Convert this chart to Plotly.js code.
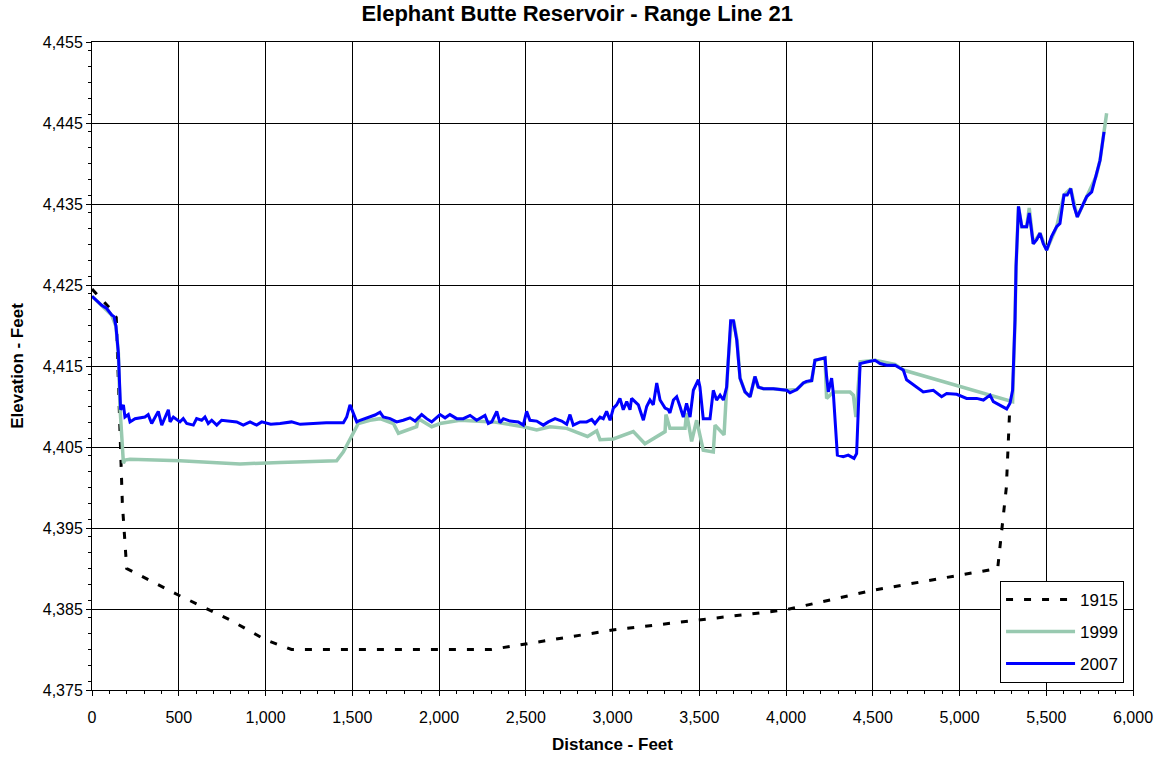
<!DOCTYPE html>
<html>
<head>
<meta charset="utf-8">
<script src="https://cdn.plot.ly/plotly-3.0.1.min.js"></script>
<style>html,body{margin:0;padding:0;background:#fff;}#chart{width:1166px;height:761px;}</style>
</head>
<body>
<div id="chart"></div>
<script>
// 1915 survey
const dist1915 = [0, 100, 140, 160, 175, 200, 500, 800, 1000, 1150, 2300, 3000, 4000, 4500, 5000, 5220, 5270, 5290];
const elev1915 = [4424.5, 4422.2, 4421, 4408, 4398, 4390, 4386.7, 4383.6, 4381.2, 4380, 4380, 4382.4, 4384.9, 4387.3, 4389.2, 4390, 4400, 4410];

// 1999 survey
const dist1999 = [0, 56, 113, 138, 152, 161, 181, 190, 219, 507, 853, 1084, 1410, 1449, 1487, 1535, 1602, 1660, 1737, 1766, 1871, 1881, 1958, 2006, 2121, 2313, 2486, 2563, 2640, 2736, 2856, 2909, 2928, 3005, 3120, 3187, 3303, 3308, 3331, 3418, 3427, 3456, 3485, 3523, 3581, 3591, 3643, 3667, 3685, 3700, 3718, 3735, 3764, 3793, 3821, 3840, 3870, 3927, 4004, 4062, 4100, 4148, 4167, 4225, 4234, 4273, 4369, 4388, 4403, 4427, 4513, 4628, 4676, 5306, 5320, 5326, 5340, 5359, 5387, 5402, 5425, 5464, 5502, 5560, 5602, 5641, 5679, 5733, 5787, 5810, 5848];
const elev1999 = [4423.6, 4422.5, 4421.3, 4419.9, 4416.6, 4410.0, 4403.0, 4403.4, 4403.5, 4403.3, 4402.9, 4403.1, 4403.3, 4404.4, 4405.9, 4407.9, 4408.3, 4408.5, 4407.9, 4406.7, 4407.5, 4408.5, 4407.5, 4407.9, 4408.3, 4408.1, 4407.5, 4407.1, 4407.5, 4407.3, 4406.3, 4407.0, 4405.9, 4406.0, 4406.9, 4405.4, 4406.9, 4409.0, 4407.3, 4407.3, 4409.2, 4405.7, 4408.3, 4404.6, 4404.4, 4407.7, 4406.5, 4415.7, 4420.4, 4420.4, 4418.2, 4413.5, 4411.8, 4411.2, 4413.7, 4412.4, 4412.2, 4412.2, 4412.0, 4412.1, 4412.9, 4413.2, 4415.7, 4416.0, 4411.0, 4411.8, 4411.8, 4411.4, 4408.7, 4415.5, 4415.7, 4415.2, 4414.5, 4410.6, 4420.7, 4427.3, 4434.7, 4432.2, 4432.2, 4434.5, 4430.1, 4431.4, 4429.3, 4432.2, 4436.1, 4436.9, 4433.4, 4435.9, 4438.4, 4440.4, 4446.2];

// 2007 survey
const dist2007 = [0, 27, 56, 85, 113, 127, 138, 152, 161, 165, 181, 190, 209, 219, 248, 305, 324, 344, 382, 402, 440, 450, 469, 507, 526, 546, 584, 603, 632, 651, 670, 690, 719, 747, 834, 872, 911, 949, 978, 1030, 1084, 1150, 1200, 1276, 1350, 1449, 1468, 1487, 1506, 1526, 1545, 1583, 1631, 1660, 1679, 1718, 1756, 1794, 1833, 1862, 1900, 1929, 1958, 2006, 2035, 2063, 2102, 2140, 2179, 2217, 2265, 2284, 2304, 2333, 2351, 2371, 2409, 2457, 2486, 2505, 2524, 2563, 2601, 2630, 2669, 2707, 2736, 2755, 2774, 2813, 2851, 2880, 2899, 2928, 2947, 2966, 2986, 3005, 3024, 3043, 3062, 3082, 3101, 3110, 3130, 3149, 3158, 3178, 3197, 3216, 3235, 3255, 3274, 3303, 3322, 3331, 3351, 3370, 3389, 3408, 3427, 3447, 3466, 3495, 3504, 3523, 3562, 3581, 3600, 3620, 3639, 3658, 3681, 3697, 3716, 3735, 3764, 3793, 3821, 3840, 3870, 3927, 4004, 4023, 4062, 4100, 4118, 4148, 4167, 4225, 4234, 4244, 4263, 4273, 4296, 4330, 4359, 4392, 4407, 4427, 4465, 4513, 4542, 4580, 4628, 4676, 4695, 4734, 4791, 4849, 4897, 4926, 4984, 5041, 5099, 5138, 5176, 5195, 5233, 5272, 5291, 5306, 5320, 5326, 5340, 5359, 5387, 5402, 5425, 5445, 5464, 5483, 5502, 5531, 5560, 5579, 5602, 5621, 5641, 5660, 5679, 5704, 5733, 5762, 5787, 5810, 5833];
const elev2007 = [4423.6, 4423.1, 4422.5, 4422.1, 4421.3, 4421.1, 4419.9, 4416.6, 4412.4, 4409.6, 4410.2, 4408.7, 4409.0, 4408.1, 4408.5, 4408.7, 4409.0, 4407.9, 4409.4, 4407.7, 4409.6, 4408.1, 4408.7, 4408.1, 4408.5, 4407.9, 4407.7, 4408.5, 4408.3, 4408.7, 4407.9, 4408.3, 4407.7, 4408.3, 4408.1, 4407.7, 4408.1, 4407.7, 4408.1, 4407.8, 4407.9, 4408.1, 4407.8, 4407.9, 4408.0, 4408.0, 4408.7, 4410.2, 4409.2, 4408.1, 4408.3, 4408.6, 4408.95, 4409.3, 4408.7, 4408.5, 4408.1, 4408.3, 4408.6, 4408.2, 4409.0, 4408.5, 4408.1, 4409.0, 4408.6, 4409.0, 4408.5, 4408.5, 4408.9, 4408.3, 4408.9, 4407.9, 4408.1, 4409.4, 4408.0, 4408.5, 4408.2, 4408.1, 4407.7, 4409.4, 4408.3, 4408.2, 4407.7, 4408.1, 4408.5, 4408.2, 4407.8, 4409.0, 4407.7, 4408.1, 4408.1, 4408.4, 4407.9, 4408.7, 4408.5, 4409.4, 4408.3, 4409.8, 4410.2, 4411.0, 4409.6, 4410.6, 4409.6, 4411.0, 4410.6, 4410.2, 4409.6, 4408.3, 4410.0, 4410.8, 4410.2, 4412.9, 4410.8, 4409.8, 4409.6, 4409.2, 4410.8, 4411.2, 4410.0, 4408.7, 4410.4, 4408.7, 4412.0, 4413.3, 4412.4, 4408.5, 4408.5, 4412.0, 4410.8, 4411.4, 4410.8, 4412.4, 4420.6, 4420.6, 4418.2, 4413.5, 4411.8, 4411.2, 4413.7, 4412.4, 4412.2, 4412.2, 4412.0, 4411.7, 4412.1, 4412.9, 4413.1, 4413.2, 4415.7, 4416.0, 4413.7, 4411.8, 4413.5, 4411.6, 4404.0, 4403.8, 4404.0, 4403.6, 4404.2, 4415.3, 4415.5, 4415.7, 4415.3, 4415.1, 4415.1, 4414.5, 4413.3, 4412.7, 4411.8, 4412.0, 4411.2, 4411.6, 4411.5, 4411.0, 4411.0, 4410.8, 4411.4, 4410.6, 4410.2, 4409.7, 4410.4, 4412.0, 4420.7, 4427.3, 4434.7, 4432.2, 4432.2, 4433.9, 4430.1, 4430.6, 4431.4, 4430.1, 4429.3, 4431.0, 4432.2, 4432.6, 4436.1, 4436.1, 4436.9, 4434.7, 4433.4, 4434.5, 4435.9, 4436.5, 4438.4, 4440.4, 4443.9];

const seriesNames = ['1915', '1999', '2007'];
const chartTitle = 'Elephant Butte Reservoir - Range Line 21';
const xTitle = 'Distance - Feet';
const yTitle = 'Elevation - Feet';

const FONT = 'Liberation Sans, Arial, sans-serif';

const traces = [
  {x: dist1915, y: elev1915, name: seriesNames[0], mode: 'lines', legendgroup: 'a',
   line: {color: '#000000', width: 3, dash: '7px,11px'}},
  {x: dist1999, y: elev1999, name: seriesNames[1], mode: 'lines', legendgroup: 'b',
   line: {color: '#98C9B0', width: 3.5}},
  {x: dist2007, y: elev2007, name: seriesNames[2], mode: 'lines', legendgroup: 'c',
   line: {color: '#0000FF', width: 3}}
];

const layout = {
  width: 1166, height: 761,
  margin: {l: 92, r: 33, t: 42, b: 71},
  paper_bgcolor: '#ffffff', plot_bgcolor: '#ffffff',
  font: {family: FONT, color: '#000000', size: 16},
  showlegend: true,
  title: {text: '<b>' + chartTitle + '</b>', x: 0.495, xref: 'container', xanchor: 'center',
          y: 0.982, yref: 'container', yanchor: 'middle',
          font: {family: FONT, size: 22, color: '#000'}},
  xaxis: {
    range: [0, 6000], dtick: 500, tick0: 0, tickformat: ',d',
    showgrid: true, gridcolor: '#000000', gridwidth: 1,
    showline: true, linecolor: '#000000', linewidth: 1, mirror: true,
    zeroline: false, ticks: 'outside', ticklen: 5, tickcolor: '#000', tickwidth: 1,
    ticklabelstandoff: 8,
    minor: {dtick: 100, ticks: 'outside', ticklen: 3, tickcolor: '#000', showgrid: false},
    tickfont: {family: FONT, size: 16, color: '#000'},
    title: {text: '<b>' + xTitle + '</b>', font: {family: FONT, size: 17, color: '#000'}, standoff: 12}
  },
  yaxis: {
    range: [4375, 4455], dtick: 10, tick0: 4375, tickformat: ',d',
    showgrid: true, gridcolor: '#000000', gridwidth: 1,
    showline: true, linecolor: '#000000', linewidth: 1, mirror: true,
    zeroline: false, ticks: 'outside', ticklen: 5, tickcolor: '#000', tickwidth: 1,
    minor: {dtick: 2, ticks: 'outside', ticklen: 3, tickcolor: '#000', showgrid: false},
    tickfont: {family: FONT, size: 16, color: '#000'},
    title: {text: '<b>' + yTitle + '</b>', font: {family: FONT, size: 17, color: '#000'}, standoff: 14}
  },
  legend: {
    x: 0.9914, xanchor: 'right', y: 0.011, yanchor: 'bottom',
    bgcolor: '#ffffff', bordercolor: '#000000', borderwidth: 1,
    font: {family: FONT, size: 17, color: '#000'},
    traceorder: 'grouped', tracegroupgap: 7, itemwidth: 69
  }
};

Plotly.newPlot('chart', traces, layout, {displayModeBar: false, staticPlot: true});
</script>
</body>
</html>
